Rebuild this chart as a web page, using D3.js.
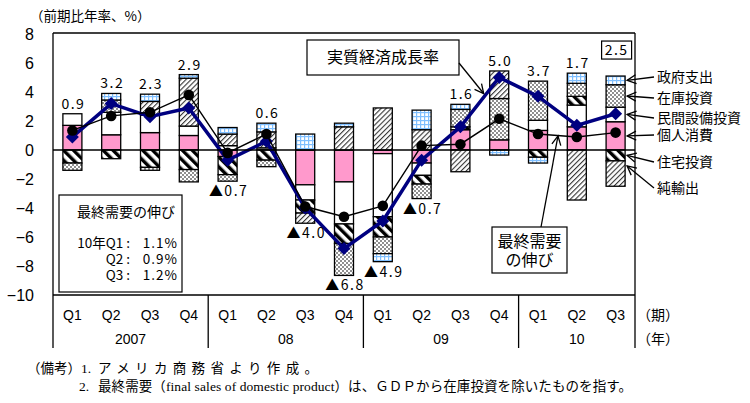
<!DOCTYPE html>
<html>
<head>
<meta charset="utf-8">
<script src="https://cdn.jsdelivr.net/npm/d3@7"></script>
<style>
  body { margin: 0; background: #fff; }
  svg { display: block; }
  text { font-family: "Noto Sans CJK JP", sans-serif; fill: #000; }
  .tick-label { font-family: "Liberation Sans", Arial, sans-serif; font-size: 16px; }
  .q-label, .year-label { font-family: "Liberation Sans Narrow", "Liberation Sans", sans-serif; font-size: 14px; }
  .value-label { font-size: 14px; letter-spacing: 1.5px; }
  .note { font-family: "Liberation Serif", "Noto Sans CJK JP", serif; font-size: 13.5px; }
</style>
</head>
<body>
<svg id="chart"></svg>
<script>
// quarters on the x axis
const periods = ["2007Q1", "2007Q2", "2007Q3", "2007Q4", "2008Q1", "2008Q2", "2008Q3", "2008Q4",
  "2009Q1", "2009Q2", "2009Q3", "2009Q4", "2010Q1", "2010Q2", "2010Q3"];
const quarterLabels = ["Q1", "Q2", "Q3", "Q4", "Q1", "Q2", "Q3", "Q4", "Q1", "Q2", "Q3", "Q4", "Q1", "Q2", "Q3"];
const yearLabels = ["2007", "08", "09", "10"];
const yearQuarterCounts = [4, 4, 4, 3];
const yTicks = [8, 6, 4, 2, 0, -2, -4, -6, -8, -10];

// contributions (% points, annualised q/q)
const consumption = [1.7, 1.05, 1.2, 1.0, -0.45, 0, -2.4, -2.2, -0.25, -0.9, 1.4, 0.7, 1.35, 1.6, 1.95];
const equipment = [0.8, 1.55, 1.2, 0.65, 0.3, 0.15, -1.05, -2.9, -4.35, -0.85, 0, 0, 0.7, 1.5, 1.0];
const housing = [-0.9, -0.6, -1.2, -1.35, -1.25, -0.7, -0.9, -1.35, -1.4, -0.6, 0.2, 0, -0.5, 0.6, -0.75];
const inventory = [-0.5, 0.85, -0.2, -0.85, -0.45, -0.45, 0, -2.2, -1.15, -1.0, 1.2, 2.85, 2.7, 0.9, 1.55];
const netExports = [0, 0, 0.95, 3.3, 0.8, 1.1, -0.7, 1.6, 2.9, 1.4, -1.5, 1.9, 0, -3.45, -1.75];
const government = [0, 0.45, 0.5, 0.25, 0.45, 0.6, 1.1, 0.25, -0.55, 1.35, 0.35, -0.35, -0.4, 0.7, 0.6];

// lines
const gdpGrowth = [0.9, 3.2, 2.3, 2.9, -0.7, 0.6, -4.0, -6.8, -4.9, -0.7, 1.6, 5.0, 3.7, 1.7, 2.5];
const finalDemand = [1.35, 2.35, 2.6, 3.8, -0.2, 1.1, -3.9, -4.6, -3.85, 0.3, 0.4, 2.15, 1.1, 0.9, 1.2];

const componentKeys = ["consumption", "equipment", "housing", "inventory", "netExports", "government"];
const componentNames = ["個人消費", "民間設備投資", "住宅投資", "在庫投資", "純輸出", "政府支出"];
const legendOrder = ["government", "inventory", "equipment", "consumption", "housing", "netExports"];

const finalDemandBoxRows = [["10年Q1 :", "1.1%"], ["Q2 :", "0.9%"], ["Q3 :", "1.2%"]];

class ContributionChart {
  constructor(_config) {
    this.config = {
      parentElement: _config.parentElement,
      containerWidth: 750,
      containerHeight: 403,
      plot: { left: 53, right: 635, top: 34, bottom: 295, catBottom: 348 },
      fills: {
        consumption: "#FF99CC",
        equipment: "#FFFFFF",
        housing: "url(#p-housing)",
        inventory: "url(#p-inventory)",
        netExports: "url(#p-net)",
        government: "url(#p-gov)",
      },
      legendY: [77, 98, 118, 135, 162, 188],
    };
    this.initVis();
  }

  initVis() {
    let vis = this;
    const p = vis.config.plot;

    vis.svg = d3.select(vis.config.parentElement)
      .attr("width", vis.config.containerWidth)
      .attr("height", vis.config.containerHeight);

    vis.xScale = d3.scaleBand().domain(periods).range([p.left, p.right]).padding(0);
    vis.yScale = d3.scaleLinear().domain([-10, 8]).range([p.bottom, p.top]);
    vis.barWidth = vis.xScale.bandwidth() * 0.49;

    // patterns
    const defs = vis.svg.append("defs");
    const housingP = defs.append("pattern").attr("id", "p-housing")
      .attr("patternUnits", "userSpaceOnUse").attr("width", 7).attr("height", 7)
      .attr("patternTransform", "rotate(-45)");
    housingP.append("rect").attr("width", 7).attr("height", 7).attr("fill", "#fff");
    housingP.append("rect").attr("width", 3.4).attr("height", 7).attr("fill", "#000");

    const netP = defs.append("pattern").attr("id", "p-net")
      .attr("patternUnits", "userSpaceOnUse").attr("width", 3.6).attr("height", 4)
      .attr("patternTransform", "rotate(45)");
    netP.append("rect").attr("width", 3.6).attr("height", 4).attr("fill", "#fff");
    netP.append("rect").attr("width", 1.1).attr("height", 4).attr("fill", "#333");

    const invP = defs.append("pattern").attr("id", "p-inventory")
      .attr("patternUnits", "userSpaceOnUse").attr("width", 4).attr("height", 4);
    invP.append("rect").attr("width", 4).attr("height", 4).attr("fill", "#fff");
    invP.append("circle").attr("cx", 1).attr("cy", 1).attr("r", 0.8).attr("fill", "#000");
    invP.append("circle").attr("cx", 3).attr("cy", 3).attr("r", 0.8).attr("fill", "#000");

    const govP = defs.append("pattern").attr("id", "p-gov")
      .attr("patternUnits", "userSpaceOnUse").attr("width", 4).attr("height", 4);
    govP.append("rect").attr("width", 4).attr("height", 4).attr("fill", "#fff");
    govP.append("rect").attr("width", 4).attr("height", 1.2).attr("fill", "#7FBFFF");
    govP.append("rect").attr("width", 1.2).attr("height", 4).attr("fill", "#7FBFFF");

    defs.append("marker").attr("id", "arrow")
      .attr("viewBox", "-1 -6 12 12").attr("refX", 9).attr("refY", 0)
      .attr("markerUnits", "userSpaceOnUse")
      .attr("markerWidth", 12).attr("markerHeight", 12).attr("orient", "auto")
      .append("path").attr("d", "M0,-4.5L9,0L0,4.5")
      .attr("fill", "none").attr("stroke", "#000").attr("stroke-width", 1.3);

    vis.chart = vis.svg.append("g");
  }

  renderVis() {
    let vis = this;
    const p = vis.config.plot;
    const x = vis.xScale, y = vis.yScale;
    const cx = (i) => x(periods[i]) + x.bandwidth() / 2;

    // axis title
    vis.svg.append("text").attr("x", 30).attr("y", 21)
      .style("font-size", "13.5px").text("（前期比年率、%）");

    // y tick labels
    vis.svg.selectAll(".tick-label").data(yTicks).join("text")
      .attr("class", "tick-label")
      .attr("x", 34).attr("y", (d) => y(d)).attr("dy", "0.36em")
      .attr("text-anchor", "end")
      .text((d) => d3.format("d")(d));

    // stacked bars
    const rows = periods.map((period, i) => ({
      period,
      consumption: consumption[i], equipment: equipment[i], housing: housing[i],
      inventory: inventory[i], netExports: netExports[i], government: government[i],
    }));
    const stacked = d3.stack().keys(componentKeys).offset(d3.stackOffsetDiverging)(rows);

    vis.chart.selectAll(".series").data(stacked).join("g")
      .attr("class", "series")
      .attr("fill", (s) => vis.config.fills[s.key])
      .selectAll("rect")
      .data((s) => s.filter((d) => d[0] !== d[1]))
      .join("rect")
      .attr("x", (d) => x(d.data.period) + (x.bandwidth() - vis.barWidth) / 2)
      .attr("y", (d) => y(Math.max(d[0], d[1])))
      .attr("width", vis.barWidth)
      .attr("height", (d) => Math.abs(y(d[0]) - y(d[1])))
      .attr("stroke", "#000").attr("stroke-width", 1.3);

    // frame, zero line, category separators
    const frame = vis.svg.append("g").attr("stroke", "#000").attr("fill", "none");
    frame.append("line").attr("x1", p.left).attr("x2", p.right).attr("y1", p.top - 1).attr("y2", p.top - 1).attr("stroke-width", 1.3);
    frame.append("line").attr("x1", p.left).attr("x2", p.right).attr("y1", p.bottom).attr("y2", p.bottom).attr("stroke-width", 1.3);
    frame.append("line").attr("x1", p.left).attr("x2", p.right).attr("y1", y(0)).attr("y2", y(0)).attr("stroke-width", 1.5);
    frame.append("line").attr("x1", p.left).attr("x2", p.left).attr("y1", p.top - 1).attr("y2", p.catBottom).attr("stroke-width", 1.3);
    frame.append("line").attr("x1", p.right).attr("x2", p.right).attr("y1", p.top - 1).attr("y2", p.catBottom).attr("stroke-width", 1.3);

    let start = 0;
    yearLabels.forEach((yl, k) => {
      const x0 = x(periods[start]);
      const x1 = x(periods[start + yearQuarterCounts[k] - 1]) + x.bandwidth();
      if (k > 0) {
        frame.append("line").attr("x1", x0).attr("x2", x0).attr("y1", p.bottom).attr("y2", p.catBottom).attr("stroke-width", 1.3);
      }
      vis.svg.append("text").attr("class", "year-label")
        .attr("x", (x0 + x1) / 2).attr("y", 344).attr("text-anchor", "middle").text(yl);
      start += yearQuarterCounts[k];
    });

    vis.svg.selectAll(".q-label").data(quarterLabels).join("text")
      .attr("class", "q-label")
      .attr("x", (d, i) => cx(i)).attr("y", 320)
      .attr("text-anchor", "middle").text((d) => d);

    vis.svg.append("text").attr("x", 637).attr("y", 320).style("font-size", "14px").text("（期）");
    vis.svg.append("text").attr("x", 637).attr("y", 344).style("font-size", "14px").text("（年）");

    // lines
    const line = (arr) => d3.line().x((d, i) => cx(i)).y((d) => y(d))(arr);
    vis.chart.append("path").attr("d", line(gdpGrowth))
      .attr("fill", "none").attr("stroke", "#000080").attr("stroke-width", 3.5).attr("stroke-linejoin", "round");
    vis.chart.selectAll(".diamond").data(gdpGrowth).join("path")
      .attr("class", "diamond")
      .attr("transform", (d, i) => `translate(${cx(i)},${y(d)})`)
      .attr("d", "M0,-6.5L6.5,0L0,6.5L-6.5,0Z")
      .attr("fill", "#000080");

    vis.chart.append("path").attr("d", line(finalDemand))
      .attr("fill", "none").attr("stroke", "#000").attr("stroke-width", 1.4);
    vis.chart.selectAll(".dot").data(finalDemand).join("circle")
      .attr("class", "dot")
      .attr("cx", (d, i) => cx(i)).attr("cy", (d) => y(d)).attr("r", 5.3)
      .attr("fill", "#000");

    // value labels
    const tops = periods.map((_, i) => d3.sum(componentKeys, (k) => Math.max(0, rows[i][k])));
    const bottoms = periods.map((_, i) => d3.sum(componentKeys, (k) => Math.min(0, rows[i][k])));
    const last = gdpGrowth.length - 1;
    gdpGrowth.forEach((v, i) => {
      const txt = v < 0 ? "▲" + d3.format(".1f")(-v) : d3.format(".1f")(v);
      let ty;
      if (i === last) ty = y(tops[i]) - 21;
      else if (v < 0) ty = y(bottoms[i]) + 15;
      else ty = y(tops[i]) - 5;
      vis.svg.append("text").attr("class", "value-label")
        .attr("x", cx(i) + 1).attr("y", ty).attr("text-anchor", "middle").text(txt);
      if (i === last) {
        vis.svg.append("rect").attr("x", cx(i) - 14).attr("y", ty - 14)
          .attr("width", 30).attr("height", 18)
          .attr("fill", "none").attr("stroke", "#000").attr("stroke-width", 1.2);
      }
    });

    // component labels with arrows pointing at the last bar
    const lastStack = {};
    stacked.forEach((s) => { lastStack[s.key] = s[last]; });
    const barRight = cx(last) + vis.barWidth / 2 + 2;
    legendOrder.forEach((key, j) => {
      const ly = vis.config.legendY[j];
      const seg = lastStack[key];
      let tipY = y((seg[0] + seg[1]) / 2);
      if (key === "netExports") tipY = y(seg[0] + (seg[1] - seg[0]) * 0.8);
      vis.svg.append("line")
        .attr("x1", 654).attr("y1", ly).attr("x2", barRight).attr("y2", tipY)
        .attr("stroke", "#000").attr("stroke-width", 1.3).attr("marker-end", "url(#arrow)");
      vis.svg.append("text").attr("x", 657).attr("y", ly).attr("dy", "0.35em")
        .style("font-size", "14px")
        .text(componentNames[componentKeys.indexOf(key)]);
    });

    // callout: real growth
    vis.svg.append("rect").attr("x", 307).attr("y", 40).attr("width", 152).attr("height", 35)
      .attr("fill", "#fff").attr("stroke", "#000").attr("stroke-width", 1.2);
    vis.svg.append("text").attr("x", 383).attr("y", 57.5).attr("dy", "0.35em")
      .attr("text-anchor", "middle").style("font-size", "16px").text("実質経済成長率");
    vis.svg.append("line").attr("x1", 459).attr("y1", 63).attr("x2", cx(11) - vis.barWidth / 2 - 6).attr("y2", y(gdpGrowth[11]) + 16)
      .attr("stroke", "#000").attr("stroke-width", 1.3).attr("marker-end", "url(#arrow)");

    // callout: final demand
    vis.svg.append("rect").attr("x", 492).attr("y", 227).attr("width", 75).attr("height", 46)
      .attr("fill", "#fff").attr("stroke", "#000").attr("stroke-width", 1.2);
    const fdCallout = vis.svg.append("text").attr("text-anchor", "middle").style("font-size", "16px");
    fdCallout.append("tspan").attr("x", 529.5).attr("y", 247).text("最終需要");
    fdCallout.append("tspan").attr("x", 529.5).attr("y", 266).text("の伸び");
    vis.svg.append("line").attr("x1", 541).attr("y1", 227).attr("x2", 558).attr("y2", y(finalDemand[13]) - 1)
      .attr("stroke", "#000").attr("stroke-width", 1.3).attr("marker-end", "url(#arrow)");

    // final demand box
    vis.svg.append("rect").attr("x", 59).attr("y", 195).attr("width", 123).attr("height", 97)
      .attr("fill", "#fff").attr("stroke", "#000").attr("stroke-width", 1.2);
    vis.svg.append("text").attr("x", 77).attr("y", 217).style("font-size", "14px").text("最終需要の伸び");
    finalDemandBoxRows.forEach((r, k) => {
      const by = 248 + k * 16;
      vis.svg.append("text").attr("x", 130).attr("y", by).attr("text-anchor", "end")
        .style("font-size", "13.5px").text(r[0]);
      vis.svg.append("text").attr("x", 178).attr("y", by).attr("text-anchor", "end")
        .style("font-size", "13.5px").style("letter-spacing", "1px").text(r[1]);
    });

    // notes
    const note1 = vis.svg.append("text").attr("class", "note");
    note1.append("tspan").attr("x", 27).attr("y", 373).text("（備考）1.");
    note1.append("tspan").attr("x", 98).attr("y", 373).attr("textLength", 220)
      .attr("lengthAdjust", "spacing").text("アメリカ商務省より作成。");
    const note2 = vis.svg.append("text").attr("class", "note");
    note2.append("tspan").attr("x", 79).attr("y", 391).text("2.");
    note2.append("tspan").attr("x", 98).attr("y", 391).attr("textLength", 534)
      .attr("lengthAdjust", "spacing")
      .text("最終需要（final sales of domestic product）は、ＧＤＰから在庫投資を除いたものを指す。");
  }
}

const chart = new ContributionChart({ parentElement: "#chart" });
chart.renderVis();
</script>
</body>
</html>
